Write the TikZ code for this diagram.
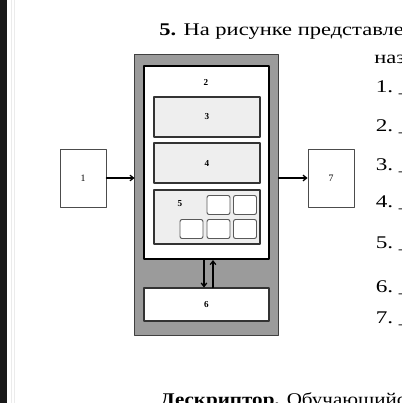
\documentclass[tikz,border=0pt]{standalone}
\usepackage{fontspec}
\setmainfont{Liberation Serif}
\usetikzlibrary{arrows.meta}
\definecolor{casegray}{HTML}{9B9B9B}
\definecolor{partfill}{HTML}{EEEEEE}
\newcommand{\wide}[2]{\scalebox{#1}[1]{#2}}
\tikzset{
  box/.style={draw=black!80,line width=0.8pt,inner sep=0pt,font=\fontsize{6.5}{7}\selectfont\bfseries},
  tag/.style={inner sep=0pt,font=\fontsize{6.5}{7}\selectfont\bfseries},
  part/.style={box,fill=partfill,minimum width=2.65cm},
  unit/.style={draw=black!70,line width=0.6pt,fill=white,inner sep=0pt,
    minimum width=1.15cm,minimum height=1.45cm,font=\fontsize{7}{8}\selectfont},
  cell/.style={draw=black!65,line width=0.7pt,fill=white,rounded corners=1.5pt,
    minimum width=0.575cm,minimum height=0.475cm,inner sep=0pt},
  arr/.style={line width=0.9pt,-{Straight Barb[length=2.5pt,width=4pt]}},
  pagetext/.style={anchor=base west,inner sep=0pt,font=\fontsize{12.7}{14}\selectfont}
}
\begin{document}
\begin{tikzpicture}[x=0.025cm,y=-0.025cm,line cap=round,line join=round]
    \useasboundingbox (0,0) rectangle (402,403);
    \clip (0,0) rectangle (402,403);
    % page edge
    \fill[black!90] (0,0) rectangle (7.5,403);
    \draw[black!8] (11,0) -- (11,403);
    \draw[black!8] (14.5,0) -- (14.5,403);
    % page text
    \node[pagetext] (title) at (159,35) {\wide{1.26}{\textbf{5.} На рисунке представле}};
    \node[pagetext] (title2) at (374,63) {\wide{1.26}{наз}};
    \foreach \n/\y in {1/92,2/131,3/170,4/207,5/248,6/292,7/323}
      \node[pagetext] (item\n) at (375.5,\y) {\wide{1.3}{\n.~\_\_}};
    \node[pagetext] (descr) at (160,405) {\wide{1.18}{\textbf{Дескриптор.} Обучающийс}};
    % computer
    \node[box,fill=casegray,draw=black!75,line width=0.7pt,minimum width=3.575cm,minimum height=7cm] (case) at (206.5,195) {};
    \node[box,fill=white,line width=1.5pt,draw=black,minimum width=3.125cm,minimum height=4.825cm] (board) at (206.5,162.5) {};
    \node[tag] (l2) at (206,82.5) {2};
    \node[part,minimum height=1cm] (b3) at (207,117) {3};
    \node[part,minimum height=1cm] (b4) at (207,163) {4};
    \node[part,minimum height=1.35cm] (b5) at (207,217) {};
    \node[tag] (l5) at (180,204) {5};
    \foreach \x/\y [count=\i] in {218.5/205,245/205,191.5/229,218.5/229,245/229}
      \node[cell] (c\i) at (\x,\y) {};
    \node[box,fill=white,minimum width=3.125cm,minimum height=0.825cm] (b6) at (206.5,304.5) {6};
    \node[unit] (b1) at (83,178) {1};
    \node[unit] (b7) at (331,178) {7};
    % connections
    \draw[arr] (b1.east) -- (b1.east -| case.west);
    \draw[arr] (case.east |- b7.west) -- (b7.west);
    \draw[arr] ([xshift=-0.0625cm]board.south) -- ([xshift=-0.0625cm]b6.north);
    \draw[arr] ([xshift=0.1625cm]b6.north) -- ([xshift=0.1625cm]board.south);
\end{tikzpicture}
\end{document}
